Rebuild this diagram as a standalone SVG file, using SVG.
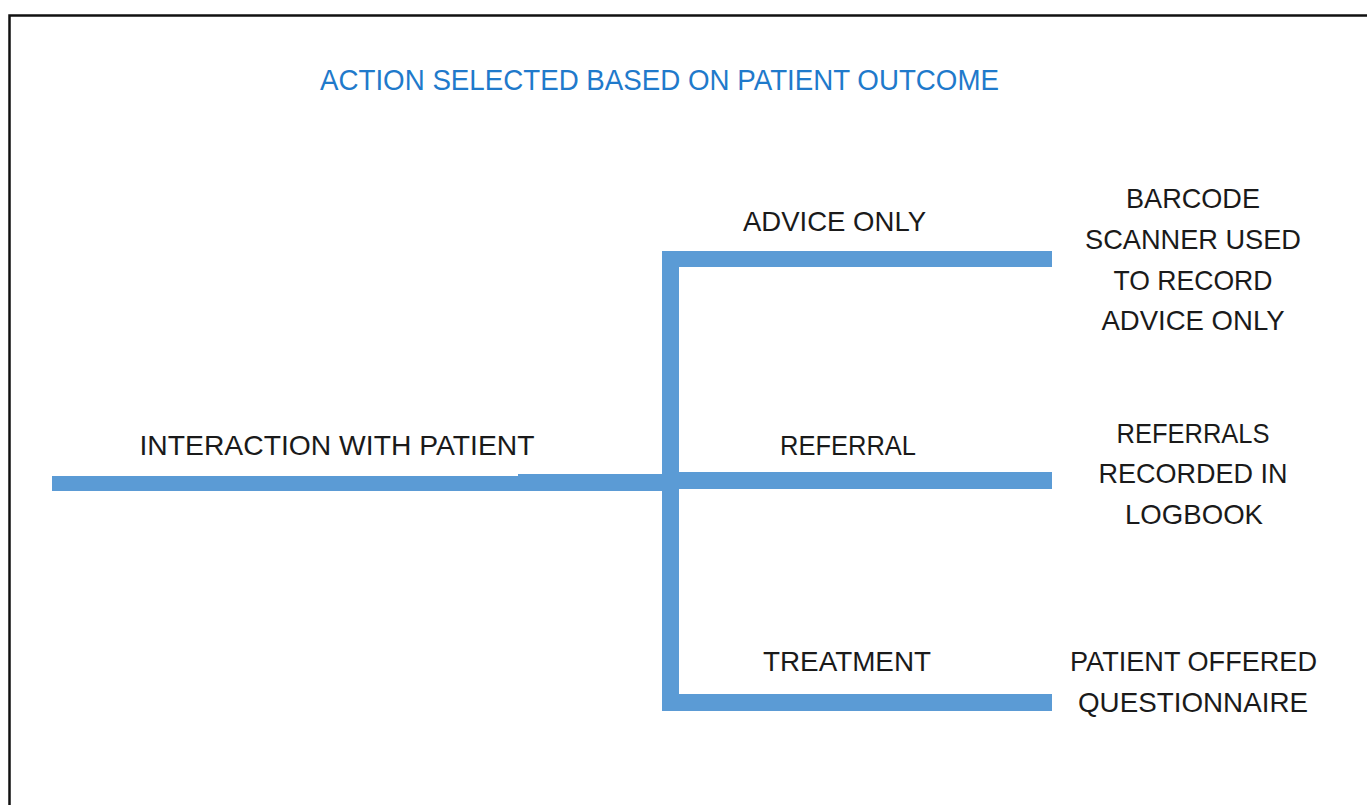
<svg xmlns="http://www.w3.org/2000/svg" width="1367" height="805" viewBox="0 0 1367 805">
  <style>
    .frame { fill: none; stroke: #111; stroke-width: 2.5; }
    .bar { fill: #5B9BD5; }
    .title { font-family: "Liberation Sans", Arial, sans-serif; font-size: 30px; fill: #1F7ACB; text-anchor: middle; }
    .lbl { font-family: "Liberation Sans", Arial, sans-serif; font-size: 28.5px; fill: #1a1a1a; text-anchor: middle; }
  </style>
  <rect width="1367" height="805" fill="#fff"/>
  <!-- outer frame: top and left edges visible -->
  <path class="frame" d="M9.5,820 V15.5 H1380"/>

  <g id="title">
    <text class="title" x="659.5" y="90" textLength="679" lengthAdjust="spacingAndGlyphs">ACTION SELECTED BASED ON PATIENT OUTCOME</text>
  </g>

  <g id="connectors">
    <!-- trunk from the patient interaction -->
    <polygon class="bar" points="52,476 518,476 518,474 662,474 662,491 52,491"/>
    <!-- vertical spine -->
    <rect class="bar" x="662" y="251" width="17" height="460"/>
    <!-- branches -->
    <rect class="bar" x="679" y="251" width="373" height="16"/>
    <rect class="bar" x="679" y="472" width="373" height="17"/>
    <rect class="bar" x="679" y="694" width="373" height="17"/>
  </g>

  <g id="interaction">
    <text class="lbl" x="337" y="455" textLength="395" lengthAdjust="spacingAndGlyphs">INTERACTION WITH PATIENT</text>
  </g>
  <g id="advice-only">
    <text class="lbl" x="834.5" y="231" textLength="183" lengthAdjust="spacingAndGlyphs">ADVICE ONLY</text>
  </g>
  <g id="referral">
    <text class="lbl" x="848" y="455" textLength="136" lengthAdjust="spacingAndGlyphs">REFERRAL</text>
  </g>
  <g id="treatment">
    <text class="lbl" x="847" y="671" textLength="168" lengthAdjust="spacingAndGlyphs">TREATMENT</text>
  </g>

  <g id="barcode-record">
    <text class="lbl" x="1193" y="208" textLength="134" lengthAdjust="spacingAndGlyphs">BARCODE</text>
    <text class="lbl" x="1193" y="249" textLength="216" lengthAdjust="spacingAndGlyphs">SCANNER USED</text>
    <text class="lbl" x="1193" y="290" textLength="159" lengthAdjust="spacingAndGlyphs">TO RECORD</text>
    <text class="lbl" x="1193" y="330" textLength="183" lengthAdjust="spacingAndGlyphs">ADVICE ONLY</text>
  </g>
  <g id="logbook">
    <text class="lbl" x="1193" y="443" textLength="153" lengthAdjust="spacingAndGlyphs">REFERRALS</text>
    <text class="lbl" x="1193" y="483" textLength="189" lengthAdjust="spacingAndGlyphs">RECORDED IN</text>
    <text class="lbl" x="1194" y="524" textLength="138" lengthAdjust="spacingAndGlyphs">LOGBOOK</text>
  </g>
  <g id="questionnaire">
    <text class="lbl" x="1193.5" y="671" textLength="247" lengthAdjust="spacingAndGlyphs">PATIENT OFFERED</text>
    <text class="lbl" x="1193" y="712" textLength="230" lengthAdjust="spacingAndGlyphs">QUESTIONNAIRE</text>
  </g>
</svg>
